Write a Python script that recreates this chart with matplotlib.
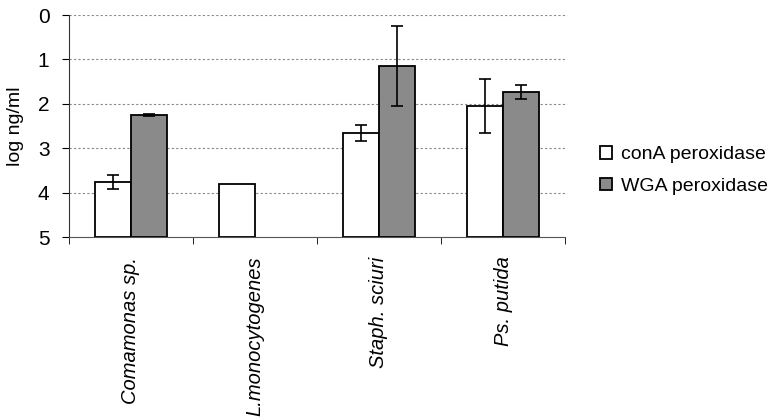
import matplotlib
matplotlib.use("Agg")
import matplotlib.pyplot as plt
import numpy as np

plt.rcParams['font.family'] = ['Liberation Sans', 'DejaVu Sans']

# data
organisms = ['Comamonas sp.', 'L.monocytogenes', 'Staph. sciuri', 'Ps. putida']
cona_vals = [3.75, 3.80, 2.66, 2.04]
cona_err = [0.16, 0.0, 0.18, 0.61]
wga_vals = [2.25, np.nan, 1.15, 1.74]
wga_err = [0.02, 0.0, 0.90, 0.16]
y_ticks = [0, 1, 2, 3, 4, 5]

fig = plt.figure(figsize=(7.74, 4.19), dpi=100)
ax = fig.add_axes([0.089, 0.434, 0.641, 0.530])

x = np.arange(len(organisms))
w = 0.29
base = 5

cona = np.array(cona_vals)
wga = np.array(wga_vals)

ax.bar(x - w / 2, base - cona, bottom=cona, width=w, color='white',
       edgecolor='black', linewidth=1.3, label='conA peroxidase', zorder=3)
mask = ~np.isnan(wga)
ax.bar(x[mask] + w / 2, base - wga[mask], bottom=wga[mask], width=w, color='#8a8a8a',
       edgecolor='black', linewidth=1.3, label='WGA peroxidase', zorder=3)

# error bars
ce = np.array(cona_err)
we = np.array(wga_err)
sel = ce > 0
ax.errorbar(x[sel] - w / 2, cona[sel], yerr=ce[sel], fmt='none', ecolor='black',
            elinewidth=1.2, capsize=4, capthick=1.2, zorder=4)
sel = mask & (we > 0)
ax.errorbar(x[sel] + w / 2, wga[sel], yerr=we[sel], fmt='none', ecolor='black',
            elinewidth=1.2, capsize=4, capthick=1.2, zorder=4)

ax.set_xlim(-0.5, len(organisms) - 0.5)
ax.set_ylim(5, 0)
ax.set_yticks(y_ticks)
ax.tick_params(axis='y', labelsize=15, length=5, direction='out', pad=9)
for yv in y_ticks[:-1]:
    ax.axhline(yv, color='#888888', linestyle=(0, (2, 2)), linewidth=0.8, zorder=1)

# category ticks at boundaries, labels at centres
ax.set_xticks(np.arange(len(organisms) + 1) - 0.5, minor=True)
ax.set_xticks(x)
ax.set_xticklabels(organisms, rotation=90, fontstyle='italic', fontsize=14.5)
ax.tick_params(axis='x', which='major', length=0, pad=14)
ax.tick_params(axis='x', which='minor', length=5, direction='out')

for s in ['top', 'right']:
    ax.spines[s].set_visible(False)
ax.spines['left'].set_color('#333333')
ax.spines['bottom'].set_color('#555555')

ax.set_ylabel('log ng/ml', fontsize=14, labelpad=10)

ax.legend(loc='center left', bbox_to_anchor=(1.035, 0.30), frameon=False,
          fontsize=14, handlelength=0.6, handleheight=0.6, handletextpad=0.5,
          labelspacing=0.75)

fig.savefig('out.png', dpi=100)
